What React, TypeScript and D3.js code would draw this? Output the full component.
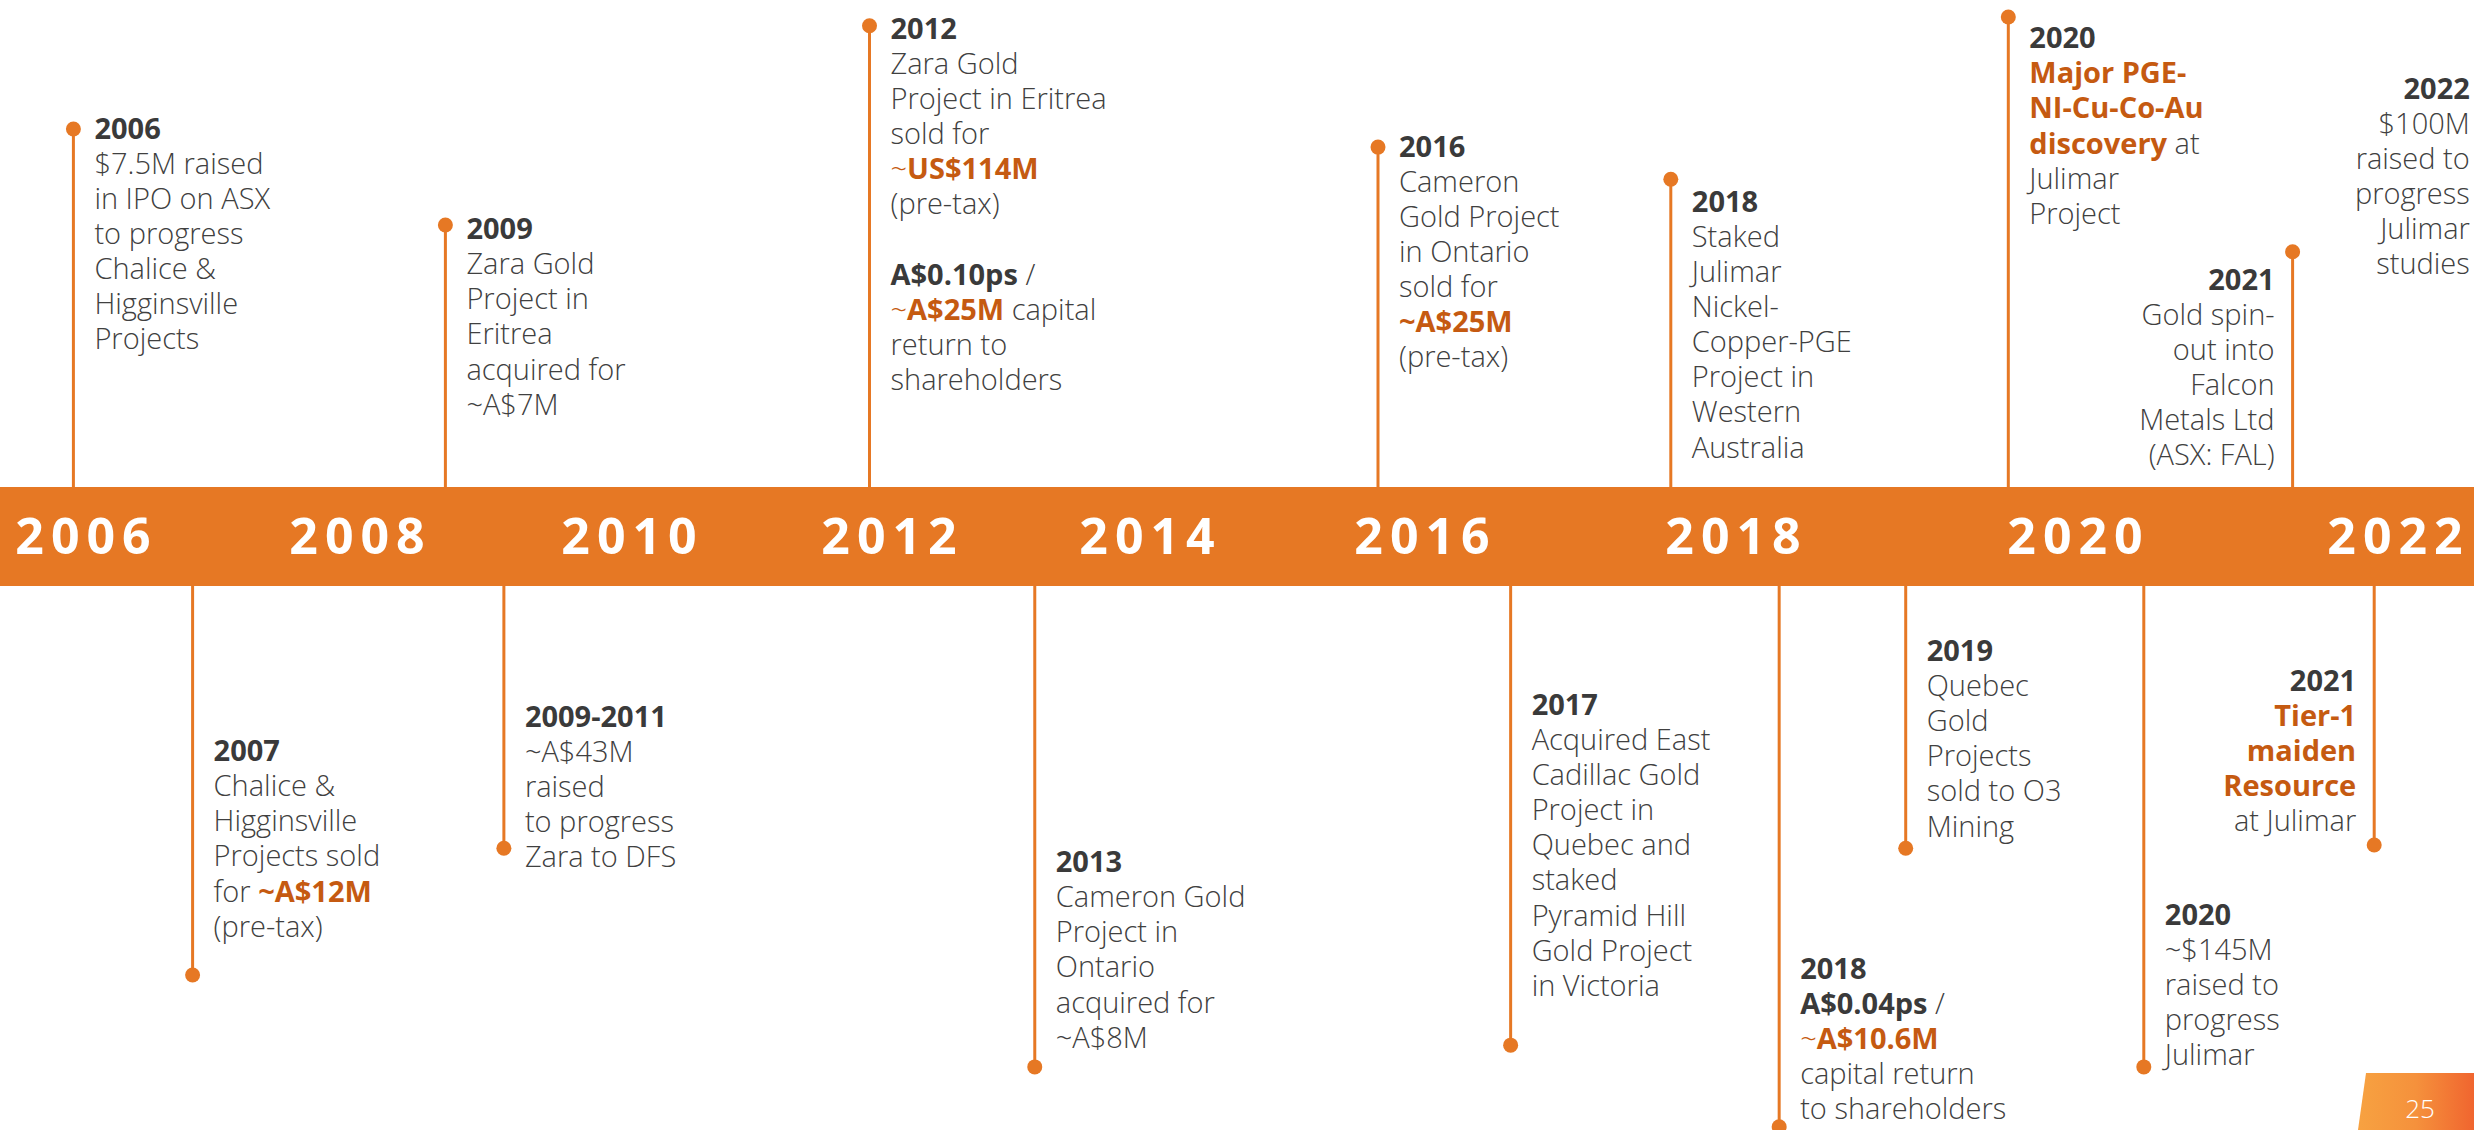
import React from 'react';
import * as d3 from 'd3';

// ---------------- data ----------------
const tickYears = [2006, 2008, 2010, 2012, 2014, 2016, 2018, 2020, 2022];

type Ev = {
  label: string;
  date: number; // position on the time axis (fractional year)
  reach: number; // stem length, % of free space from band
  textReach: number; // title baseline, % of free space from band
  align?: 'start' | 'end';
  stem?: boolean;
  lines: string[]; // *bold*  #bold orange#  ^orange^
};

const aboveEvents: Ev[] = [
  { label: '2006', date: 2005.93, reach: 73.5, textReach: 71.5, lines: ['$7.5M raised', 'in IPO on ASX', 'to progress', 'Chalice &', 'Higginsville', 'Projects'] },
  { label: '2009', date: 2008.65, reach: 53.8, textReach: 50.9, lines: ['Zara Gold', 'Project in', 'Eritrea', 'acquired for', '~A$7M'] },
  { label: '2012', date: 2011.85, reach: 94.7, textReach: 92.0, lines: ['Zara Gold', 'Project in Eritrea', 'sold for', '^~^#US$114M#', '(pre-tax)', '', '*A$0.10ps* /', '^~^#A$25M# capital', 'return to', 'shareholders'] },
  { label: '2016', date: 2015.68, reach: 69.8, textReach: 67.8, lines: ['Cameron', 'Gold Project', 'in Ontario', 'sold for', '#~A$25M#', '(pre-tax)'] },
  { label: '2018', date: 2017.6, reach: 63.2, textReach: 56.5, lines: ['Staked', 'Julimar', 'Nickel-', 'Copper-PGE', 'Project in', 'Western', 'Australia'] },
  { label: '2020', date: 2019.61, reach: 96.5, textReach: 90.1, lines: ['#Major PGE-#', '#NI-Cu-Co-Au#', '#discovery# at', 'Julimar', 'Project'] },
  { label: '2021', date: 2021.36, reach: 48.3, textReach: 40.5, align: 'end', lines: ['Gold spin-', 'out into', 'Falcon', 'Metals Ltd', '(ASX: FAL)'] },
  { label: '2022', date: 2022.58, reach: 0, textReach: 79.7, align: 'end', stem: false, lines: ['$100M', 'raised to', 'progress', 'Julimar', 'studies'] },
];

const belowEvents: Ev[] = [
  { label: '2007', date: 2006.8, reach: 71.5, textReach: 32.2, lines: ['Chalice &', 'Higginsville', 'Projects sold', 'for #~A$12M#', '(pre-tax)'] },
  { label: '2009-2011', date: 2009.08, reach: 48.2, textReach: 25.9, lines: ['~A$43M', 'raised', 'to progress', 'Zara to DFS'] },
  { label: '2013', date: 2013.13, reach: 88.4, textReach: 52.6, lines: ['Cameron Gold', 'Project in', 'Ontario', 'acquired for', '~A$8M'] },
  { label: '2017', date: 2016.57, reach: 84.4, textReach: 23.7, lines: ['Acquired East', 'Cadillac Gold', 'Project in', 'Quebec and', 'staked', 'Pyramid Hill', 'Gold Project', 'in Victoria'] },
  { label: '2018', date: 2018.27, reach: 99.4, textReach: 72.2, lines: ['*A$0.04ps* /', '^~^#A$10.6M#', 'capital return', 'to shareholders'] },
  { label: '2019', date: 2019.01, reach: 48.2, textReach: 13.8, lines: ['Quebec', 'Gold', 'Projects', 'sold to O3', 'Mining'] },
  { label: '2020', date: 2020.43, reach: 88.4, textReach: 62.3, lines: ['~$145M', 'raised to', 'progress', 'Julimar'] },
  { label: '2021', date: 2021.87, reach: 47.6, textReach: 19.3, align: 'end', lines: ['#Tier-1#', '#maiden#', '#Resource#', 'at Julimar'] },
];

const pageNumber = '25';

// ---------------- layout ----------------
const W = 2474;
const H = 1130;
const bandTop = 487;
const bandBottom = 586;
const tickX = [83, 357, 629, 889, 1147, 1422, 1733, 2075, 2395];
const lineH = 35.1;
const gap = 21;

const ORANGE = '#E67824';
const HILITE = '#C55A11';
const DARK = '#404040';
const FONT = "'Open Sans', 'Noto Sans', sans-serif";

const x = d3.scaleLinear().domain(tickYears).range(tickX);
const yAbove = d3.scaleLinear().domain([0, 100]).range([bandTop, 0]);
const yBelow = d3.scaleLinear().domain([0, 100]).range([bandBottom, H]);

type Seg = { t: string; style: 'n' | 'b' | 'o' | 'on' };
function parse(line: string): Seg[] {
  const parts = line.split(/(\*[^*]*\*|#[^#]*#|\^[^^]*\^)/).filter((p) => p.length > 0);
  return parts.map((p) => {
    if (p.startsWith('*')) return { t: p.slice(1, -1), style: 'b' };
    if (p.startsWith('#')) return { t: p.slice(1, -1), style: 'o' };
    if (p.startsWith('^')) return { t: p.slice(1, -1), style: 'on' };
    return { t: p, style: 'n' };
  });
}

function EventMark({ ev, side }: { ev: Ev; side: 'above' | 'below' }) {
  const cx = x(ev.date);
  const y = side === 'above' ? yAbove : yBelow;
  const dotY = y(ev.reach);
  const base = y(ev.textReach);
  const align = ev.align ?? 'start';
  const tx = align === 'start' ? cx + gap : cx - gap + 3;
  const hasStem = ev.stem !== false;
  return (
    <g>
      {hasStem && (
        <>
          <line x1={cx} x2={cx} y1={side === 'above' ? bandTop : bandBottom} y2={dotY} stroke={ORANGE} strokeWidth={3} />
          <circle cx={cx} cy={dotY} r={7.5} fill={ORANGE} />
        </>
      )}
      <text textAnchor={align} fontFamily={FONT} fontSize={29} fontWeight={300} fill={DARK} style={{ whiteSpace: 'pre' }}>
        <tspan x={tx} y={base} fontWeight={700} fill="#3a3a3a">
          {ev.label}
        </tspan>
        {ev.lines.map((ln, i) => (
          <tspan key={i} x={tx} y={base + (i + 1) * lineH}>
            {parse(ln).map((s, j) => (
              <tspan
                key={j}
                fontWeight={s.style === 'b' || s.style === 'o' ? 700 : 300}
                fill={s.style === 'o' || s.style === 'on' ? HILITE : s.style === 'b' ? '#3a3a3a' : DARK}
              >
                {s.t}
              </tspan>
            ))}
          </tspan>
        ))}
      </text>
    </g>
  );
}

export default function App() {
  const ls = 7;
  return (
    <svg width={W} height={H} style={{ position: 'absolute', left: 0, top: 0, display: 'block', background: '#fff' }}>
      <defs>
        <linearGradient id="pg" x1="0" x2="1" y1="0" y2="0">
          <stop offset="0" stopColor="#F7A241" />
          <stop offset="0.5" stopColor="#F5913C" />
          <stop offset="1" stopColor="#F0652F" />
        </linearGradient>
      </defs>
      <rect x={0} y={0} width={W} height={H} fill="#fff" />
      {aboveEvents.map((ev, i) => (
        <EventMark key={'a' + i} ev={ev} side="above" />
      ))}
      {belowEvents.map((ev, i) => (
        <EventMark key={'b' + i} ev={ev} side="below" />
      ))}
      <rect x={0} y={bandTop} width={W} height={bandBottom - bandTop} fill={ORANGE} />
      {tickYears.map((yr) => (
        <text
          key={yr}
          x={x(yr)}
          dx={ls / 2}
          y={554}
          textAnchor="middle"
          fontFamily={FONT}
          fontWeight={700}
          fontSize={50}
          letterSpacing={ls}
          fill="#fff"
        >
          {yr}
        </text>
      ))}
      <polygon points={`2366,1073 ${W},1073 ${W},${H} 2358,${H}`} fill="url(#pg)" />
      <text x={2420} y={1118} textAnchor="middle" fontFamily={FONT} fontSize={26} fontWeight={300} fill="#fff">
        {pageNumber}
      </text>
    </svg>
  );
}
